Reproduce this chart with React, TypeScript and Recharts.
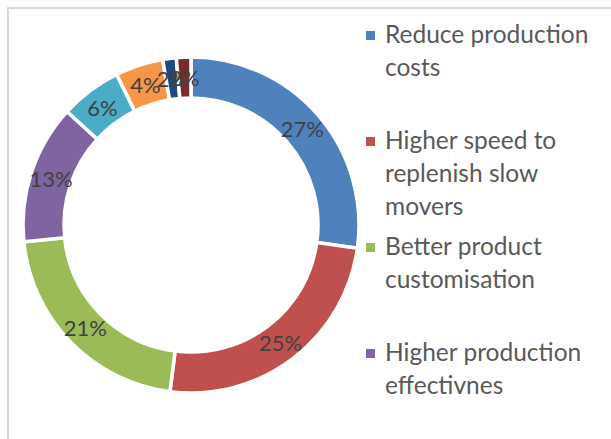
import React from "react";
import { PieChart, Pie, Cell, Legend } from "recharts";

const categories = [
  "Reduce production costs",
  "Higher speed to replenish slow movers",
  "Better product customisation",
  "Higher production effectivnes",
  "Category 5",
  "Category 6",
  "Category 7",
  "Category 8",
];
const values = [27.2, 24.8, 21.4, 13.4, 5.9, 4.6, 1.3, 1.4];
const percentLabels = ["27%", "25%", "21%", "13%", "6%", "4%", "2%", "2%"];
const legendLines = [
  ["Reduce production", "costs"],
  ["Higher speed to", "replenish slow", "movers"],
  ["Better product", "customisation"],
  ["Higher production", "effectivnes"],
];
const colors = ["#4F81BD", "#C0504D", "#9BBB59", "#8064A2", "#4BACC6", "#F79646", "#1F497D", "#772C2A"];

const data = categories.map((name, i) => ({ name, value: values[i] }));

const FONT = "Lato, 'Open Sans', sans-serif";
const RADIAN = Math.PI / 180;

const renderLabel = (props: any) => {
  const { cx, cy, midAngle, innerRadius, outerRadius, index } = props;
  const r = (innerRadius + outerRadius) / 2;
  const x = cx + r * Math.cos(-midAngle * RADIAN);
  const y = cy + r * Math.sin(-midAngle * RADIAN);
  return (
    <text
      x={x}
      y={y}
      fill="#404040"
      fontSize={22}
      fontFamily={FONT}
      textAnchor="middle"
      dominantBaseline="central"
    >
      {percentLabels[index]}
    </text>
  );
};

const LegendContent = () => (
  <div style={{ position: "relative", width: 250, height: 439, fontFamily: FONT }}>
    {legendLines.map((lines, i) => (
      <div key={i} style={{ position: "absolute", left: 0, top: 17 + 106 * i }}>
        <div
          style={{
            position: "absolute",
            left: 6,
            top: 14,
            width: 9,
            height: 9,
            background: colors[i],
          }}
        />
        {lines.map((ln, j) => (
          <div
            key={j}
            style={{
              position: "absolute",
              left: 25,
              top: j * 33,
              fontSize: 24.5,
              lineHeight: "33px",
              color: "#595959",
              whiteSpace: "nowrap",
            }}
          >
            {ln}
          </div>
        ))}
      </div>
    ))}
  </div>
);

export default function App() {
  return (
    <div
      style={{
        position: "absolute",
        left: 0,
        top: 0,
        width: 611,
        height: 439,
        overflow: "hidden",
        background: "#fff",
      }}
    >
      <div
        style={{
          position: "absolute",
          left: 7,
          top: 7,
          width: 700,
          height: 600,
          borderLeft: "2px solid #d9d9d9",
          borderTop: "2px solid #d9d9d9",
        }}
      />
      <div style={{ position: "absolute", left: 0, top: 0 }}>
        <PieChart width={611} height={439} margin={{ top: 0, right: 0, bottom: 0, left: 0 }}>
          <Pie
            data={data}
            dataKey="value"
            nameKey="name"
            cx={191}
            cy={225}
            innerRadius={127}
            outerRadius={168}
            startAngle={90}
            endAngle={-270}
            stroke="#ffffff"
            strokeWidth={3.5}
            label={renderLabel}
            labelLine={false}
            isAnimationActive={false}
          >
            {data.map((d, i) => (
              <Cell key={d.name} fill={colors[i]} />
            ))}
          </Pie>
          <Legend
            content={<LegendContent />}
            wrapperStyle={{ position: "absolute", left: 360, top: 0, width: 251, height: 439, overflow: "hidden" }}
          />
        </PieChart>
      </div>
    </div>
  );
}
